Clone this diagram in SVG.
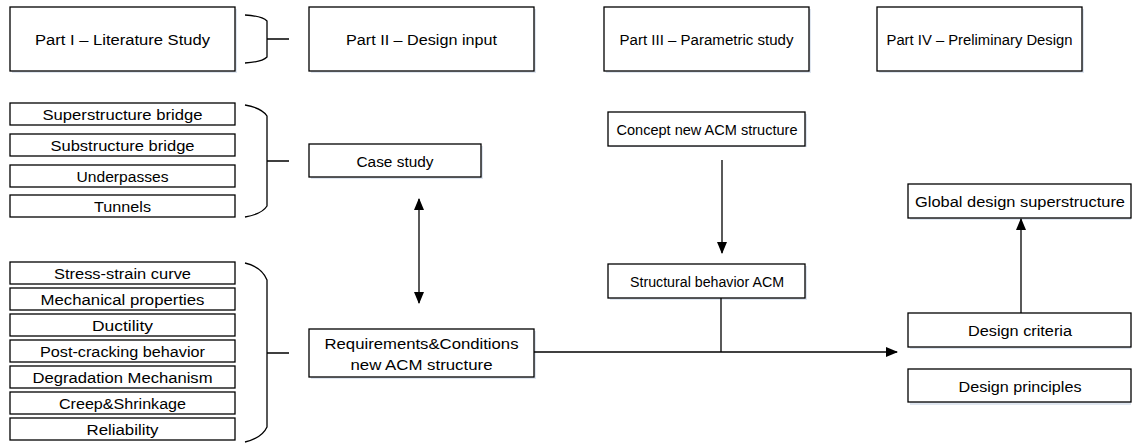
<svg xmlns="http://www.w3.org/2000/svg" width="1133" height="443" viewBox="0 0 1133 443">
<defs>
<marker id="arr" markerWidth="12" markerHeight="10" refX="11" refY="5" orient="auto" markerUnits="userSpaceOnUse">
<path d="M0,0 L12,5 L0,10 Z" fill="#000"/>
</marker>
<marker id="arrs" markerWidth="12" markerHeight="10" refX="1" refY="5" orient="auto" markerUnits="userSpaceOnUse">
<path d="M12,0 L0,5 L12,10 Z" fill="#000"/>
</marker>
</defs>
<style>
.b{fill:#fff;stroke:#000;stroke-width:1.3}
.s{fill:#dfe6f0;stroke:none}
.t,.ts{font-family:"Liberation Sans",Arial,sans-serif;font-size:15.5px;fill:#000;text-anchor:middle;dominant-baseline:central}
.c{fill:none;stroke:#000;stroke-width:1.3}
</style>
<rect width="1133" height="443" fill="#fff"/>

<g id="part1"><rect class="s" x="12" y="9" width="225" height="64"/><rect class="b" x="10" y="7" width="225" height="64"/><text class="t" x="122.5" y="39.5" textLength="175" lengthAdjust="spacingAndGlyphs">Part I – Literature Study</text></g>
<g id="part2"><rect class="s" x="311" y="9" width="225" height="64"/><rect class="b" x="309" y="7" width="225" height="64"/><text class="t" x="421.5" y="39.5" textLength="151" lengthAdjust="spacingAndGlyphs">Part II – Design input</text></g>
<g id="part3"><rect class="s" x="606" y="9" width="205" height="64"/><rect class="b" x="604" y="7" width="205" height="64"/><text class="t" x="706.5" y="39.5" textLength="174" lengthAdjust="spacingAndGlyphs">Part III – Parametric study</text></g>
<g id="part4"><rect class="s" x="879" y="9" width="205" height="64"/><rect class="b" x="877" y="7" width="205" height="64"/><text class="t" x="979.5" y="39.5" textLength="186" lengthAdjust="spacingAndGlyphs">Part IV – Preliminary Design</text></g>

<g id="superstructure"><rect class="b" x="10" y="103" width="225" height="22"/><text class="ts" x="122.5" y="114" textLength="160" lengthAdjust="spacingAndGlyphs">Superstructure bridge</text></g>
<g id="substructure"><rect class="b" x="10" y="134" width="225" height="22"/><text class="ts" x="122.5" y="145" textLength="144" lengthAdjust="spacingAndGlyphs">Substructure bridge</text></g>
<g id="underpasses"><rect class="b" x="10" y="165" width="225" height="22"/><text class="ts" x="122.5" y="176" textLength="92" lengthAdjust="spacingAndGlyphs">Underpasses</text></g>
<g id="tunnels"><rect class="b" x="10" y="195" width="225" height="22"/><text class="ts" x="122.5" y="206" textLength="57" lengthAdjust="spacingAndGlyphs">Tunnels</text></g>

<g id="stressstrain"><rect class="b" x="10" y="262" width="225" height="22"/><text class="ts" x="122.5" y="273" textLength="137" lengthAdjust="spacingAndGlyphs">Stress-strain curve</text></g>
<g id="mechanical"><rect class="b" x="10" y="288" width="225" height="22"/><text class="ts" x="122.5" y="299" textLength="164" lengthAdjust="spacingAndGlyphs">Mechanical properties</text></g>
<g id="ductility"><rect class="b" x="10" y="314" width="225" height="22"/><text class="ts" x="122.5" y="325" textLength="61" lengthAdjust="spacingAndGlyphs">Ductility</text></g>
<g id="postcracking"><rect class="b" x="10" y="340" width="225" height="22"/><text class="ts" x="122.5" y="351" textLength="165" lengthAdjust="spacingAndGlyphs">Post-cracking behavior</text></g>
<g id="degradation"><rect class="b" x="10" y="366" width="225" height="22"/><text class="ts" x="122.5" y="377" textLength="180" lengthAdjust="spacingAndGlyphs">Degradation Mechanism</text></g>
<g id="creep"><rect class="b" x="10" y="392" width="225" height="22"/><text class="ts" x="122.5" y="403" textLength="127" lengthAdjust="spacingAndGlyphs">Creep&amp;Shrinkage</text></g>
<g id="reliability"><rect class="b" x="10" y="418" width="225" height="22"/><text class="ts" x="122.5" y="429" textLength="72" lengthAdjust="spacingAndGlyphs">Reliability</text></g>

<g id="casestudy"><rect class="s" x="311" y="146" width="172" height="33"/><rect class="b" x="309" y="144" width="172" height="33"/><text class="ts" x="395" y="161" textLength="77" lengthAdjust="spacingAndGlyphs">Case study</text></g>
<g id="requirements"><rect class="s" x="311" y="331" width="225" height="48"/><rect class="b" x="309" y="329" width="225" height="48"/><text class="ts" x="421.5" y="343" textLength="194" lengthAdjust="spacingAndGlyphs">Requirements&amp;Conditions</text><text class="ts" x="421.5" y="364" textLength="142" lengthAdjust="spacingAndGlyphs">new ACM structure</text></g>
<g id="concept"><rect class="s" x="610" y="114" width="197" height="33"/><rect class="b" x="608" y="112" width="197" height="34"/><text class="ts" x="707" y="129.5" textLength="181" lengthAdjust="spacingAndGlyphs">Concept new ACM structure</text></g>
<g id="structural"><rect class="s" x="610" y="266" width="197" height="34"/><rect class="b" x="608" y="264" width="197" height="34"/><text class="ts" x="707" y="281.5" textLength="154" lengthAdjust="spacingAndGlyphs">Structural behavior ACM</text></g>
<g id="global"><rect class="s" x="910" y="186" width="221" height="34"/><rect class="b" x="908" y="184" width="223" height="34"/><text class="ts" x="1020" y="201.5" textLength="210" lengthAdjust="spacingAndGlyphs">Global design superstructure</text></g>
<g id="criteria"><rect class="s" x="910" y="315" width="221" height="34"/><rect class="b" x="908" y="313" width="223" height="34"/><text class="ts" x="1020" y="330.5" textLength="104" lengthAdjust="spacingAndGlyphs">Design criteria</text></g>
<g id="principles"><rect class="s" x="910" y="371" width="221" height="34"/><rect class="b" x="908" y="369" width="223" height="33"/><text class="ts" x="1020" y="386" textLength="123" lengthAdjust="spacingAndGlyphs">Design principles</text></g>

<g id="connectors">
<path class="c" d="M245,15 Q262,16 267,21 L267,57 Q262,62 245,63 M267,39 L289,39"/>
<path class="c" d="M245,105 Q262,108 267,116 L267,206 Q262,214 245,217 M267,161 L289,161"/>
<path class="c" d="M245,263 Q262,267 267,280 L267,427 Q262,438 245,442 M267,353 L289,353"/>
<line class="c" x1="419" y1="199" x2="419" y2="303" marker-start="url(#arrs)" marker-end="url(#arr)"/>
<line class="c" x1="722" y1="160" x2="722" y2="253" marker-end="url(#arr)"/>
<line class="c" x1="721" y1="298" x2="721" y2="352"/>
<line class="c" x1="534" y1="352" x2="897" y2="352" marker-end="url(#arr)"/>
<line class="c" x1="1021" y1="313" x2="1021" y2="219" marker-end="url(#arr)"/>
</g>
</svg>
